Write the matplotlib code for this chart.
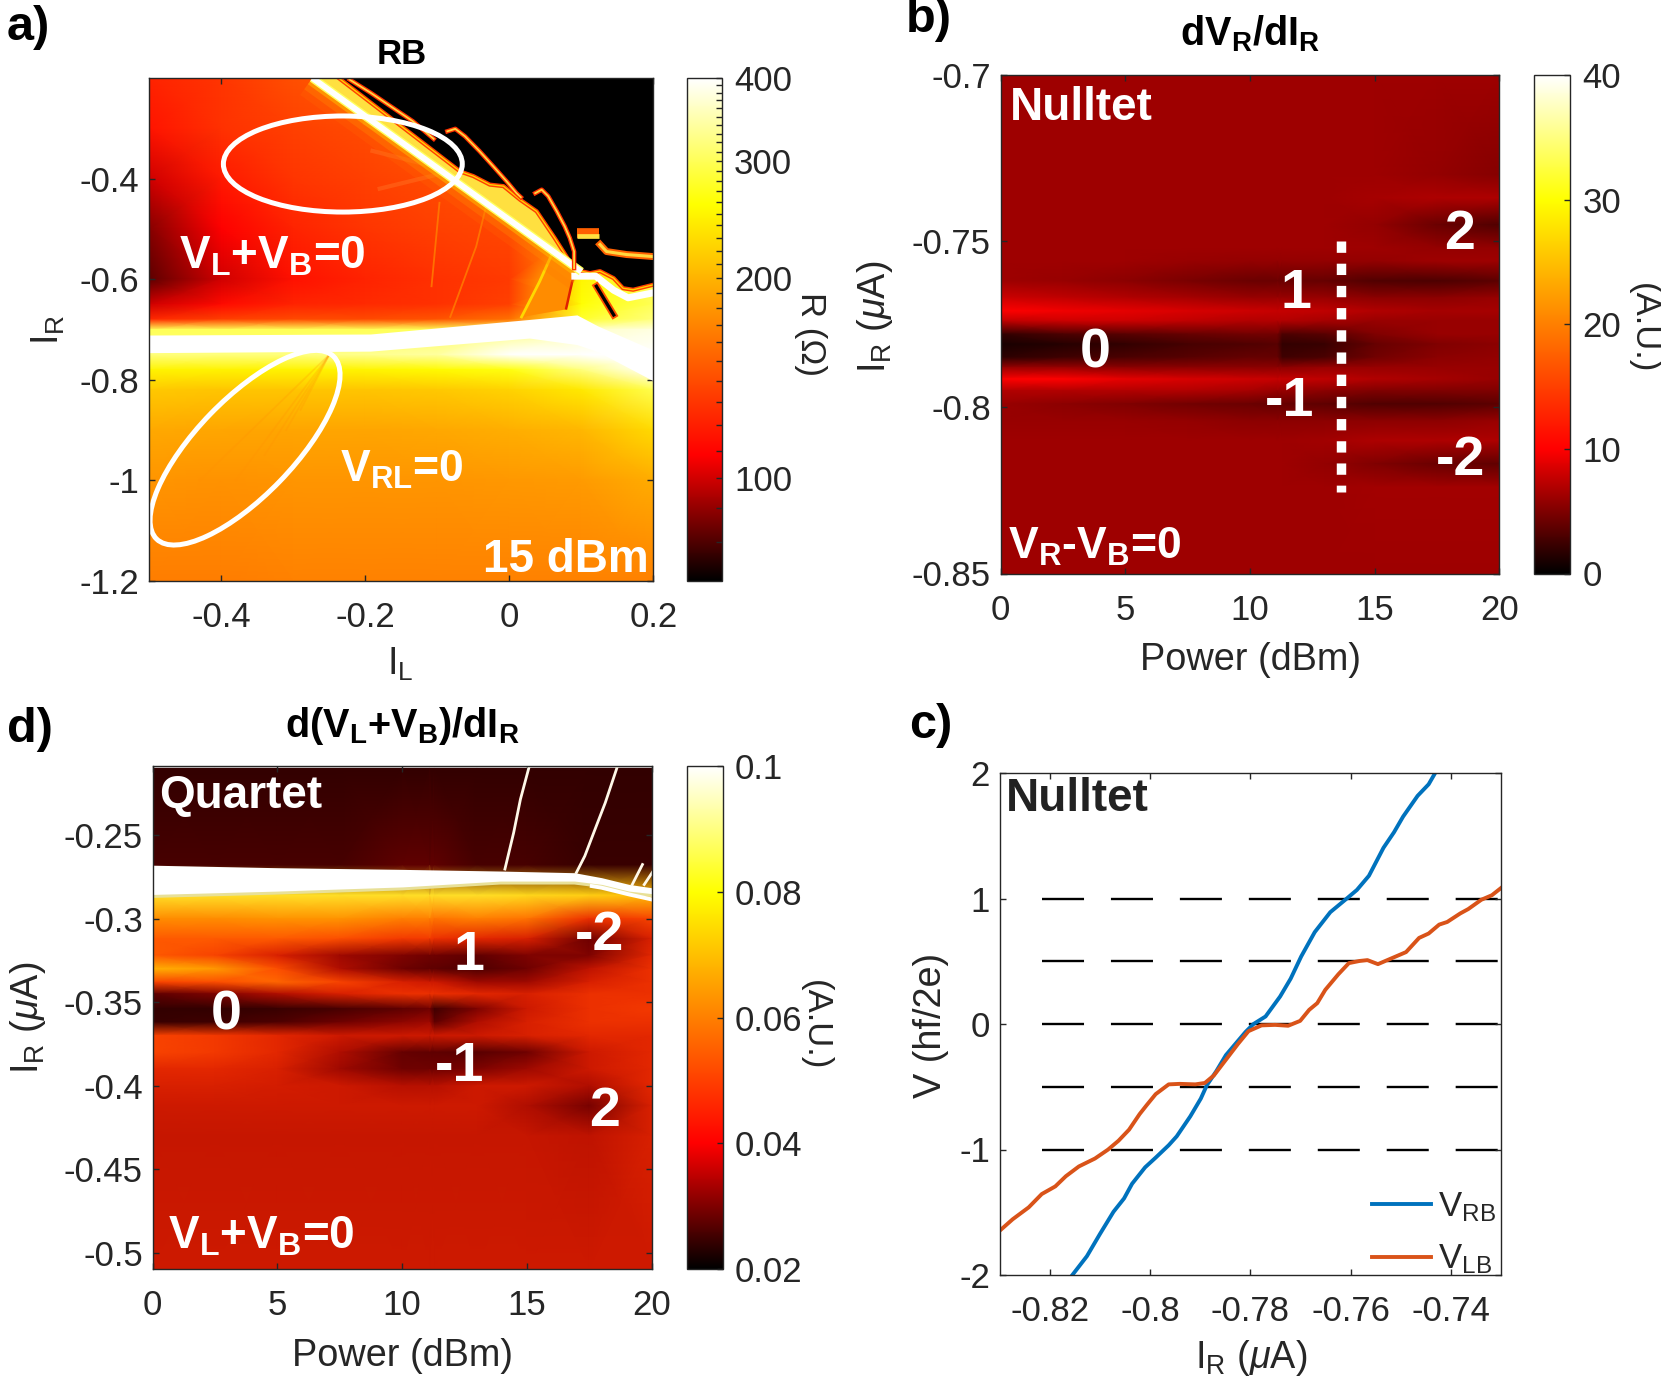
import numpy as np
import matplotlib
matplotlib.use("Agg")
import matplotlib.pyplot as plt
from matplotlib.cm import ScalarMappable
from matplotlib.colors import LinearSegmentedColormap, ListedColormap, LogNorm, Normalize
from matplotlib.patches import Ellipse

W, H = 1661, 1386

# panel a: R (ohm) on a coarse grid of (I_L, I_R)
a_il = [-0.5, -0.4, -0.3, -0.2, -0.1, 0.0, 0.1, 0.2]
a_ir = [-0.2, -0.3, -0.4, -0.5, -0.6, -0.65, -0.68, -0.7, -0.75, -0.78, -0.82, -0.9, -1.0, -1.2]
a_r = [
    [122, 130, 142, 150, 150, 150, 150, 150],
    [116, 128, 135, 140, 150, 150, 150, 150],
    [100, 118, 130, 135, 140, 145, 150, 150],
    [88, 108, 122, 130, 135, 138, 150, 150],
    [82, 100, 115, 122, 128, 132, 250, 300],
    [100, 112, 122, 125, 128, 135, 260, 300],
    [125, 135, 140, 140, 145, 160, 280, 320],
    [300, 300, 300, 300, 300, 320, 360, 380],
    [320, 320, 320, 330, 340, 400, 400, 400],
    [250, 248, 248, 250, 255, 265, 320, 400],
    [215, 212, 212, 212, 215, 222, 240, 295],
    [193, 191, 190, 190, 192, 196, 202, 228],
    [180, 178, 180, 180, 180, 182, 184, 195],
    [166, 166, 168, 168, 168, 168, 168, 168],
]
# white plateau between the two branches
a_band_x = [-0.5, -0.193, 0.028, 0.094, 0.123, 0.2]
a_band_top = [-0.711, -0.709, -0.68, -0.671, -0.693, -0.741]
a_band_bot = [-0.746, -0.743, -0.717, -0.73, -0.744, -0.802]
# diagonal ridge and the edge of the low resistance corner
a_diag_x = [-0.2735, 0.1]
a_diag_y = [-0.2, -0.585]
a_rim_x = [-0.237, -0.068, -0.05, -0.027, -0.008, 0.015, 0.038, 0.063, 0.091, 0.112, 0.126, 0.145, 0.158, 0.172, 0.2]
a_rim_y = [-0.2, -0.386, -0.395, -0.412, -0.415, -0.442, -0.465, -0.518, -0.581, -0.588, -0.584, -0.598, -0.618, -0.621, -0.611]
a_strip_x = [0.091, 0.12, 0.145, 0.165, 0.2]
a_strip_y = [-0.594, -0.594, -0.622, -0.637, -0.627]
a_line1 = ([-0.222, -0.193, -0.134, -0.105], [-0.203, -0.229, -0.286, -0.321])
a_line2 = ([-0.086, -0.075, -0.0615, -0.041, -0.022, -0.004, 0.01, 0.016],
           [-0.306, -0.301, -0.316, -0.346, -0.376, -0.405, -0.429, -0.437])
a_line3 = ([0.036, 0.045, 0.054, 0.066, 0.077, 0.084, 0.09, 0.09],
           [-0.429, -0.422, -0.435, -0.465, -0.495, -0.518, -0.545, -0.578])
a_step1 = ([0.094, 0.125], [-0.508, -0.508])
a_step2 = ([0.126, 0.135, 0.163, 0.2], [-0.531, -0.545, -0.551, -0.555])
a_streak = ([0.121, 0.145], [-0.614, -0.671])
a_faint1 = ([-0.097, -0.108], [-0.448, -0.614])
a_faint2 = ([-0.031, -0.046, -0.082], [-0.448, -0.535, -0.675])
a_faint3 = ([0.064, 0.042, 0.017], [-0.535, -0.605, -0.675])
a_faint4 = ([0.09, 0.079], [-0.588, -0.658])
a_wedge = ([0.064, 0.09, 0.079, 0.017], [-0.535, -0.588, -0.66, -0.675])
a_rays_up = [([-0.08, -0.19], [-0.385, -0.345]), ([-0.08, -0.2], [-0.385, -0.29]),
             ([-0.08, -0.18], [-0.385, -0.42]), ([-0.09, -0.16], [-0.38, -0.31])]
a_rays_low = [([-0.25, -0.43], [-0.75, -1.0]), ([-0.25, -0.38], [-0.75, -1.0]),
              ([-0.25, -0.34], [-0.75, -0.95]), ([-0.25, -0.31], [-0.75, -0.9]),
              ([-0.25, -0.29], [-0.75, -0.86])]

# panel b: dV_R/dI_R, power columns and current rows
b_power = [0, 2.5, 5, 7.5, 10, 11.1, 11.3, 13, 15, 17.5, 20]
b_ir = [-0.7, -0.73, -0.737, -0.745, -0.752, -0.756, -0.762, -0.767, -0.771, -0.774, -0.778,
        -0.781, -0.785, -0.788, -0.7915, -0.795, -0.799, -0.804, -0.81, -0.817, -0.824, -0.85]
b_val = [
    [6.2, 6.2, 6.2, 6.2, 6.2, 6.2, 6.2, 6.2, 6.2, 6.2, 6.2],
    [6.2, 6.2, 6.2, 6.2, 6.2, 6.2, 6.2, 6.2, 6.2, 5.8, 5.3],
    [6.2, 6.2, 6.2, 6.2, 6.2, 6.2, 6.2, 6.2, 6.5, 6.8, 6.8],
    [6.2, 6.2, 6.2, 6.2, 6.2, 6.2, 6.2, 6.2, 5.8, 4.2, 3.2],
    [6.2, 6.2, 6.2, 6.2, 6.2, 6.2, 6.2, 6.2, 6.2, 5.8, 5.8],
    [6.2, 6.2, 6.2, 6.0, 5.8, 5.8, 5.8, 5.8, 5.8, 6.2, 6.2],
    [6.2, 6.0, 5.5, 4.8, 4.2, 4.2, 4.2, 4.0, 3.2, 3.0, 3.6],
    [8.0, 7.5, 7.0, 6.5, 6.0, 6.0, 6.0, 6.0, 5.5, 5.5, 6.0],
    [10.0, 9.5, 9.0, 8.5, 8.0, 7.8, 7.8, 7.5, 7.0, 6.5, 6.5],
    [7.5, 8.0, 8.0, 7.5, 7.0, 7.0, 7.0, 6.5, 6.0, 6.0, 6.0],
    [2.0, 3.0, 3.5, 4.0, 4.5, 4.5, 3.0, 3.5, 5.0, 6.0, 6.0],
    [1.0, 1.5, 2.0, 2.8, 3.2, 3.5, 2.0, 2.2, 4.0, 5.0, 5.5],
    [1.8, 2.5, 3.0, 3.5, 4.0, 4.0, 2.5, 3.0, 4.5, 5.5, 5.8],
    [6.0, 6.0, 5.5, 5.5, 5.5, 5.5, 5.5, 6.0, 6.0, 6.0, 6.0],
    [10.0, 10.0, 9.0, 8.5, 8.0, 7.8, 7.8, 7.5, 7.0, 6.5, 6.0],
    [7.0, 7.0, 7.0, 7.0, 6.5, 6.0, 6.0, 5.5, 5.0, 5.0, 5.0],
    [6.0, 5.5, 5.0, 4.5, 4.2, 4.0, 4.0, 3.7, 3.2, 3.2, 3.6],
    [6.0, 6.0, 6.0, 5.8, 5.5, 5.5, 5.5, 5.5, 5.5, 5.5, 6.0],
    [6.2, 6.2, 6.2, 6.2, 6.2, 6.2, 6.2, 6.4, 6.8, 6.8, 6.8],
    [6.2, 6.2, 6.2, 6.2, 6.2, 6.2, 6.2, 5.8, 5.0, 4.2, 3.8],
    [6.2, 6.2, 6.2, 6.2, 6.2, 6.2, 6.2, 6.2, 6.4, 6.4, 6.4],
    [6.2, 6.2, 6.2, 6.2, 6.2, 6.2, 6.2, 6.2, 6.2, 6.2, 6.2],
]
b_cut_x = [13.65, 13.65]
b_cut_y = [-0.75, -0.8255]

# panel d: d(V_L+V_B)/dI_R, mean level under the pixel noise
d_power = [0, 2.5, 5, 7.5, 10, 11.1, 11.3, 13, 15, 17.5, 20]
d_ir = [-0.21, -0.268, -0.286, -0.3, -0.312, -0.322, -0.33, -0.338, -0.345, -0.354, -0.362,
        -0.37, -0.38, -0.39, -0.4, -0.412, -0.43, -0.51]
d_val = [
    [.020, .020, .020, .020, .020, .020, .020, .020, .020, .020, .020],
    [.023, .023, .023, .023, .026, .026, .026, .023, .023, .021, .021],
    [.078, .078, .078, .078, .078, .078, .078, .078, .076, .074, .070],
    [.062, .062, .063, .063, .060, .060, .058, .060, .058, .046, .050],
    [.054, .054, .054, .052, .048, .048, .046, .044, .042, .028, .042],
    [.054, .050, .042, .034, .030, .028, .028, .026, .030, .030, .044],
    [.068, .064, .052, .036, .028, .026, .026, .024, .028, .038, .046],
    [.050, .052, .056, .050, .042, .040, .040, .034, .034, .042, .046],
    [.026, .030, .036, .042, .046, .046, .046, .044, .042, .046, .046],
    [.020, .020, .021, .023, .026, .028, .022, .030, .040, .046, .048],
    [.021, .022, .024, .028, .032, .034, .026, .036, .042, .046, .046],
    [.050, .048, .044, .040, .040, .040, .040, .040, .042, .044, .044],
    [.050, .048, .044, .036, .027, .026, .026, .025, .028, .040, .044],
    [.044, .044, .042, .034, .028, .028, .028, .030, .034, .040, .044],
    [.042, .042, .041, .040, .037, .037, .037, .040, .040, .036, .044],
    [.040, .040, .040, .040, .040, .040, .040, .040, .036, .029, .042],
    [.039, .039, .039, .039, .039, .039, .039, .039, .039, .038, .042],
    [.040, .040, .040, .040, .040, .040, .040, .040, .040, .040, .040],
]
d_band_x = [0, 5, 10, 13.93, 16.91, 18, 19.09, 20]
d_band_top = [-0.268, -0.2695, -0.2705, -0.2715, -0.2725, -0.2755, -0.2795, -0.2815]
d_band_bot = [-0.2855, -0.2835, -0.281, -0.2775, -0.2775, -0.2795, -0.2835, -0.285]
d_low_line = ([17.6, 18, 19.09, 20], [-0.2805, -0.2815, -0.2855, -0.2885])
d_step1 = ([14.12, 14.47, 14.74, 15.08], [-0.2703, -0.2485, -0.2286, -0.2096])
d_step2 = ([16.98, 17.32, 17.73, 18.14, 18.61], [-0.2725, -0.2625, -0.2465, -0.2306, -0.2096])
d_step3 = ([19.22, 19.63], [-0.2796, -0.2676])
d_step4 = ([19.7, 20.1], [-0.2796, -0.2706])

# panel c: line cuts
c_levels = [-1, -0.5, 0, 0.5, 1]
c_rb_x = [-0.8155, -0.8126, -0.81, -0.8073, -0.8052, -0.8036, -0.801, -0.7989, -0.7963, -0.7947,
          -0.792, -0.7899, -0.7887, -0.7868, -0.7849, -0.7831, -0.781, -0.7794, -0.777, -0.7741,
          -0.772, -0.7699, -0.7672, -0.7641, -0.7609, -0.7588, -0.7564, -0.7535, -0.7514, -0.7496,
          -0.7467, -0.7445, -0.7432]
c_rb_y = [-2.0, -1.85, -1.673, -1.496, -1.39, -1.273, -1.142, -1.065, -0.966, -0.895,
          -0.736, -0.594, -0.488, -0.375, -0.248, -0.163, -0.064, 0.0, 0.06, 0.219,
          0.361, 0.538, 0.732, 0.891, 0.997, 1.068, 1.181, 1.404, 1.528, 1.652,
          1.818, 1.91, 2.0]
c_lb_x = [-0.83, -0.8274, -0.8242, -0.8216, -0.8189, -0.8168, -0.8142, -0.811, -0.8084, -0.8063,
          -0.8042, -0.8021, -0.8007, -0.7989, -0.7963, -0.7941, -0.791, -0.7891, -0.7873, -0.7846,
          -0.7825, -0.7804, -0.7778, -0.7751, -0.7725, -0.7701, -0.7683, -0.7667, -0.7651, -0.7625,
          -0.7604, -0.7583, -0.7567, -0.7546, -0.7525, -0.749, -0.7464, -0.7445, -0.7424, -0.7408,
          -0.7382, -0.7366, -0.734, -0.7319, -0.73]
c_lb_y = [-1.648, -1.556, -1.461, -1.355, -1.294, -1.213, -1.135, -1.072, -1.001, -0.93,
          -0.842, -0.718, -0.647, -0.559, -0.481, -0.477, -0.481, -0.47, -0.41, -0.269,
          -0.159, -0.057, -0.011, -0.007, -0.014, 0.025, 0.113, 0.166, 0.272, 0.396,
          0.485, 0.502, 0.509, 0.477, 0.513, 0.573, 0.686, 0.721, 0.792, 0.813,
          0.881, 0.916, 0.99, 1.026, 1.086]

DARK = "#262626"
plt.rcParams["font.family"] = ["Liberation Sans", "DejaVu Sans"]
plt.rcParams["axes.unicode_minus"] = False
plt.rcParams["mathtext.fontset"] = "custom"
plt.rcParams["mathtext.rm"] = "Liberation Sans"
plt.rcParams["mathtext.it"] = "Liberation Sans:italic"
plt.rcParams["mathtext.bf"] = "Liberation Sans:bold"
plt.rcParams["text.color"] = DARK

# black-red-yellow-white with red at 1/4 and yellow at 3/4
heat = LinearSegmentedColormap.from_list(
    "heat", [(0, "#000000"), (0.25, "#ff0000"), (0.75, "#ffff00"), (1, "#ffffff")], N=512)
# panel d is pixel noise on top of the mean, so its mean colour is heat averaged over a window
ramp = heat(np.linspace(0, 1, 512))
pad_n = 100
padded = np.vstack([np.repeat(ramp[:1], pad_n, axis=0), ramp, np.repeat(ramp[-1:], pad_n, axis=0)])
box = np.ones(2 * pad_n + 1) / (2 * pad_n + 1)
blur = np.column_stack([np.convolve(padded[:, i], box, mode="same")[pad_n:-pad_n] for i in range(3)])
heat_mean = ListedColormap(blur)

fig = plt.figure(figsize=(W / 100, H / 100), dpi=100)


def pax(left, top, right, bottom):
    return fig.add_axes([left / W, 1 - bottom / H, (right - left) / W, (bottom - top) / H])


def ptext(x, y, s, **kw):
    kw.setdefault("ha", "center")
    kw.setdefault("va", "center")
    fig.text(x / W, 1 - y / H, s, **kw)


def style(ax):
    ax.tick_params(which="both", direction="in", length=4.5, width=1, colors=DARK, labelsize=25,
                   top=True, right=True)
    ax.tick_params(axis="x", pad=14.5)
    ax.tick_params(axis="y", pad=7)
    for sp in ax.spines.values():
        sp.set_color(DARK)
        sp.set_linewidth(1)
        sp.set_zorder(7)


def cbar(mappable, left, top, right, bottom, ticks, labels):
    cax = pax(left, top, right, bottom)
    cb = fig.colorbar(mappable, cax=cax)
    cb.set_ticks(ticks, labels=labels)
    cb.outline.set_edgecolor(DARK)
    cb.outline.set_linewidth(1)
    cax.tick_params(which="both", direction="in", length=4.5, width=1, colors=DARK, labelsize=25, pad=9)
    return cax


def mark(ax, x, y, s, size=40, **kw):
    ax.text(x, y, s, color="white", fontsize=size, fontweight="bold", va="baseline", zorder=8, **kw)


# a) -------------------------------------------------------------------
ax = pax(149.3, 78, 653.3, 581)
m = ax.pcolormesh(a_il, a_ir, a_r, cmap=heat, norm=LogNorm(70, 400), shading="gouraud")
for rx, ry in a_rays_up:
    ax.plot(rx, ry, color="#ff9a40", lw=3, alpha=0.25, zorder=1.5)
for rx, ry in a_rays_low:
    ax.plot(rx, ry, color="#ff9000", lw=1.3, alpha=0.22, zorder=1.5)
ax.fill(*a_wedge, color="#ff8c00", lw=0, zorder=1.6)
for fx, fy in (a_faint1, a_faint2):
    ax.plot(fx, fy, color="#ff8000", lw=1.3, alpha=0.8, zorder=1.7)
ax.plot(*a_faint3, color="#ffd800", lw=2, zorder=1.7)
ax.plot(*a_faint4, color="#e02000", lw=1.8, zorder=1.7)
ax.plot(a_diag_x, a_diag_y, color="#ff7000", lw=30, alpha=0.2, zorder=2, solid_capstyle="butt")
ax.plot(a_diag_x, a_diag_y, color="#ff9000", lw=20, alpha=0.3, zorder=2, solid_capstyle="butt")
ax.plot(a_diag_x, a_diag_y, color="#ffc000", lw=11, alpha=0.5, zorder=2, solid_capstyle="butt")
ax.fill_between(a_band_x, a_band_top, a_band_bot, color="white", lw=0, zorder=2.5)
ax.fill(a_rim_x + [0.2], a_rim_y + [-0.2], color="black", lw=0, zorder=3)
ax.plot(a_rim_x, a_rim_y, color="#ff4000", lw=3, zorder=3)
ax.plot(a_rim_x, a_rim_y, color="#ffd000", lw=1, zorder=3)
ax.plot(a_strip_x, a_strip_y, color="white", lw=5, zorder=3)
ax.fill(a_diag_x + a_rim_x[7::-1], a_diag_y + a_rim_y[7::-1], color="#ffe040", lw=0, zorder=2.8)
ax.plot(a_diag_x, a_diag_y, color="#ffff60", lw=6.2, zorder=4, solid_capstyle="butt")
ax.plot(a_diag_x, a_diag_y, color="white", lw=4.2, zorder=4, solid_capstyle="butt")
for lx, ly in (a_line1, a_line2, a_line3):
    ax.plot(lx, ly, color="#ff3000", lw=3.2, zorder=5)
    ax.plot(lx, ly, color="#ffd840", lw=1.3, zorder=5)
ax.plot(*a_step1, color="#ff6000", lw=7, zorder=5, solid_capstyle="butt")
ax.plot(a_step1[0], [y - 0.006 for y in a_step1[1]], color="#ffe040", lw=3.4, zorder=5, solid_capstyle="butt")
ax.plot(*a_step2, color="#ff6000", lw=5, zorder=5)
ax.plot(*a_step2, color="#ffd840", lw=2.2, zorder=5)
ax.plot(*a_streak, color="#ff5000", lw=5, zorder=5)
ax.plot(*a_streak, color="black", lw=2.4, zorder=5)
ax.add_patch(Ellipse((0.384, 0.829), 0.474, 0.191, transform=ax.transAxes, fill=False,
                     ec="white", lw=3.6, zorder=6))
ax.add_patch(Ellipse((0.19, 0.265), 0.505, 0.192, angle=46, transform=ax.transAxes, fill=False,
                     ec="white", lw=3.6, zorder=6))
ax.set_xlim(-0.5, 0.2)
ax.set_ylim(-1.2, -0.2)
ax.set_xticks([-0.4, -0.2, 0, 0.2], ["-0.4", "-0.2", "0", "0.2"])
ax.set_yticks([-1.2, -1, -0.8, -0.6, -0.4], ["-1.2", "-1", "-0.8", "-0.6", "-0.4"])
style(ax)
mark(ax, -0.329, -0.579, r"V$_\mathbf{L}$+V$_\mathbf{B}$=0", size=33, ha="center")
mark(ax, -0.149, -1.003, r"V$_\mathbf{RL}$=0", size=32, ha="center")
mark(ax, 0.193, -1.183, "15 dBm", size=33, ha="right")
ax.set_title("RB", fontsize=25, fontweight="bold", pad=10, color="black")
cax = cbar(m, 687, 78, 721.5, 581, [100, 200, 300, 400], ["100", "200", "300", "400"])
cax.set_yticks([80, 90, 110, 120, 130, 140, 150, 160, 170, 180, 190, 210, 220, 230, 240, 250, 260,
                270, 280, 290, 310, 320, 330, 340, 350, 360, 370, 380, 390], minor=True)
cax.set_yticklabels([], minor=True)
ptext(400, 664, r"$\mathrm{I_L}$", fontsize=27)
ptext(48, 330, r"$\mathrm{I_R}$", fontsize=27, rotation=90)
ptext(810, 334, "R (Ω)", fontsize=25, rotation=-90)

# b) -------------------------------------------------------------------
ax = pax(1000.6, 75, 1499.3, 573.5)
m = ax.pcolormesh(b_power, b_ir, b_val, cmap=heat, norm=Normalize(0, 40), shading="gouraud")
ax.plot(b_cut_x, b_cut_y, color="white", lw=6.8, linestyle=(0, (1.2, 1.15)), dash_capstyle="butt")
ax.set_xlim(0, 20)
ax.set_ylim(-0.85, -0.7)
ax.set_xticks([0, 5, 10, 15, 20], ["0", "5", "10", "15", "20"])
ax.set_yticks([-0.85, -0.8, -0.75, -0.7], ["-0.85", "-0.8", "-0.75", "-0.7"])
style(ax)
mark(ax, 0.38, -0.7135, "Nulltet", size=33, ha="left")
mark(ax, 0.28, -0.8456, r"V$_\mathbf{R}$-V$_\mathbf{B}$=0", size=32, ha="left")
mark(ax, 3.78, -0.788, "0", ha="center")
mark(ax, 11.86, -0.7702, "1", ha="center")
mark(ax, 11.6, -0.8026, "-1", ha="center")
mark(ax, 18.4, -0.7523, "2", ha="center")
mark(ax, 18.45, -0.8205, "-2", ha="center")
ax.set_title(r"dV$_\mathbf{R}$/dI$_\mathbf{R}$", fontsize=28.5, fontweight="bold", pad=21, color="black")
cbar(m, 1534.3, 75, 1569.8, 573.5, [0, 10, 20, 30, 40], ["0", "10", "20", "30", "40"])
ptext(1250, 660, "Power (dBm)", fontsize=27.3)
ptext(875, 317, r"$\mathrm{I_R}$ ($\mu$A)", fontsize=27.3, rotation=90)
ptext(1643, 328, "(A.U.)", fontsize=25, rotation=-90)

# d) -------------------------------------------------------------------
ax = pax(152.5, 766.3, 651.7, 1268.8)
d_norm = Normalize(0.02, 0.1)
ax.pcolormesh(d_power, d_ir, d_val, cmap=heat_mean, norm=d_norm, shading="gouraud")
ax.plot(d_band_x, d_band_bot, color="#e8e098", lw=5, zorder=1.5)
ax.fill_between(d_band_x, d_band_top, d_band_bot, color="white", lw=0, zorder=2)
ax.plot(*d_low_line, color="white", lw=2.8, zorder=3)
for sx, sy in (d_step1, d_step2, d_step3, d_step4):
    ax.plot(sx, sy, color="#fff8e8", lw=2, zorder=3)
ax.set_xlim(0, 20)
ax.set_ylim(-0.5096, -0.2088)
ax.set_xticks([0, 5, 10, 15, 20], ["0", "5", "10", "15", "20"])
ax.set_yticks([-0.5, -0.45, -0.4, -0.35, -0.3, -0.25], ["-0.5", "-0.45", "-0.4", "-0.35", "-0.3", "-0.25"])
style(ax)
mark(ax, 0.25, -0.2335, "Quartet", size=33, ha="left")
mark(ax, 0.64, -0.4973, r"V$_\mathbf{L}$+V$_\mathbf{B}$=0", size=33, ha="left")
mark(ax, 2.97, -0.3664, "0", ha="center")
mark(ax, 12.66, -0.3305, "1", ha="center")
mark(ax, 12.3, -0.3969, "-1", ha="center")
mark(ax, 17.92, -0.3185, "-2", ha="center")
mark(ax, 18.11, -0.424, "2", ha="center")
ax.set_title(r"d(V$_\mathbf{L}$+V$_\mathbf{B}$)/dI$_\mathbf{R}$", fontsize=28.5, fontweight="bold", pad=21, color="black")
cbar(ScalarMappable(norm=d_norm, cmap=heat), 687, 766.3, 722.6, 1268.8,
     [0.02, 0.04, 0.06, 0.08, 0.1], ["0.02", "0.04", "0.06", "0.08", "0.1"])
ptext(402, 1356, "Power (dBm)", fontsize=27.3)
ptext(28, 1018, r"$\mathrm{I_R}$ ($\mu$A)", fontsize=27.3, rotation=90)
ptext(815, 1025, "(A.U.)", fontsize=25, rotation=-90)

# c) -------------------------------------------------------------------
ax = pax(999.6, 773, 1501.4, 1275)
for lev in c_levels:
    ax.plot([-0.8216, -0.73], [lev, lev], color="black", lw=1.7, linestyle=(0, (17.8, 11.4)),
            dash_capstyle="butt", zorder=1)
ax.plot(c_rb_x, c_rb_y, color="#0072BD", lw=2.8, label=r"$\mathrm{V_{RB}}$", zorder=2)
ax.plot(c_lb_x, c_lb_y, color="#D95319", lw=2.8, label=r"$\mathrm{V_{LB}}$", zorder=3)
ax.set_xlim(-0.83, -0.73)
ax.set_ylim(-2, 2)
ax.set_xticks([-0.82, -0.8, -0.78, -0.76, -0.74], ["-0.82", "-0.8", "-0.78", "-0.76", "-0.74"])
ax.set_yticks([-2, -1, 0, 1, 2], ["-2", "-1", "0", "1", "2"])
style(ax)
ax.text(-0.8287, 1.698, "Nulltet", color="#222222", fontsize=33, fontweight="bold", va="baseline")
ax.legend(loc="lower right", frameon=False, fontsize=25, handlelength=1.7, handletextpad=0.2,
          labelspacing=0.55, borderaxespad=0.0, borderpad=0.25, bbox_to_anchor=(1.006, -0.02))
ptext(1251, 1358, r"$\mathrm{I_R}$ ($\mu$A)", fontsize=27.3)
ptext(931, 1025, "V (hf/2e)", fontsize=27.3, rotation=90)

# panel letters
ptext(7, 40, "a)", fontsize=35, fontweight="bold", ha="left", va="baseline", color="black")
ptext(906, 32, "b)", fontsize=35, fontweight="bold", ha="left", va="baseline", color="black")
ptext(7, 742, "d)", fontsize=35, fontweight="bold", ha="left", va="baseline", color="black")
ptext(909, 738, "c)", fontsize=35, fontweight="bold", ha="left", va="baseline", color="black")

fig.savefig("out.png", dpi=100)
